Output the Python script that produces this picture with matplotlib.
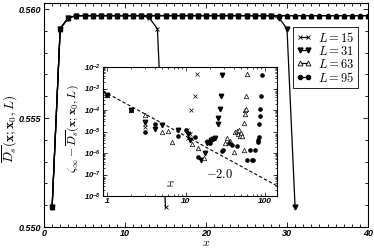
import numpy as np
import matplotlib
matplotlib.use('Agg')
import matplotlib.pyplot as plt
from matplotlib.ticker import MultipleLocator, FormatStrFormatter, FixedLocator, FixedFormatter, LogLocator, NullFormatter

plt.rcParams['font.family'] = 'Liberation Sans'
plt.rcParams['font.weight'] = 'bold'
plt.rcParams['font.style'] = 'italic'
plt.rcParams['mathtext.fontset'] = 'custom'
plt.rcParams['mathtext.rm'] = 'Liberation Sans:bold:italic'
plt.rcParams['mathtext.it'] = 'Liberation Sans:bold:italic'
plt.rcParams['mathtext.bf'] = 'Liberation Sans:bold:italic'

# main panel: D_s profile vs x for each L (visible part, x <= 41)
x15 = list(range(1, 16))
d15 = [0.5509, 0.5591, 0.5596, 0.5597, 0.5597, 0.5597, 0.5597, 0.5597,
       0.5597, 0.5597, 0.5597, 0.5597, 0.5596, 0.5591, 0.5509]
x31 = list(range(1, 32))
d31 = [0.5509, 0.5591, 0.5596, 0.5597, 0.5597, 0.5597, 0.5597, 0.5597,
       0.5597, 0.5597, 0.5597, 0.5597, 0.5597, 0.5597, 0.5597, 0.5597,
       0.5597, 0.5597, 0.5597, 0.5597, 0.5597, 0.5597, 0.5597, 0.5597,
       0.5597, 0.5597, 0.5597, 0.5597, 0.5596, 0.5591, 0.5509]
x63 = list(range(1, 42))
d63 = [0.5509, 0.5591, 0.5596] + [0.5597] * 38
x95 = list(range(1, 42))
d95 = [0.5509, 0.5591, 0.5596] + [0.5597] * 38

# inset: zeta_inf - D_s
ix15 = [1, 2, 3, 3, 10.2, 10.7, 11.2, 11.6, 13.0, 13.7]
iy15 = [5e-4, 1e-4, 2.2e-5, 1.6e-5, 1.15e-5, 4.8e-6, 7.5e-6, 1.0e-4, 4.5e-4, 4.9e-3]
ix31 = [1, 2, 3, 4, 5, 8, 10.5, 11.2, 15.5, 17.4, 18.5, 19.2, 20.5, 22, 23.3, 25.1, 25.6, 27.0, 27.8, 28.3]
iy31 = [5e-4, 1e-4, 2.7e-5, 1.3e-5, 2.1e-5, 1.2e-5, 8e-6, 4e-6, 4.7e-7, 1.0e-6,
        3.0e-6, 3.4e-6, 4.0e-6, 4.5e-6, 4.8e-6, 2.3e-5, 4.3e-5, 1.15e-4, 4.4e-4, 4.4e-3]
ix63 = [1, 2, 3, 5, 6, 6.6, 11.8, 14.3, 17, 31, 32.7, 36, 40.8, 42, 44, 45, 47, 48, 50,
        51, 54.6, 54.6, 55.6, 56.2, 57.0, 57.6, 58.8]
iy63 = [5e-4, 1e-4, 5.7e-5, 1.0e-5, 1.1e-5, 3.4e-6, 2.5e-6, 1.7e-6, 5.6e-7, 2.8e-6, 4.8e-6,
        3.5e-6, 1.15e-6, 9e-6, 1.1e-5, 7.5e-6, 1.2e-5, 6.5e-6, 8.5e-6,
        6e-6, 1.4e-6, 2.4e-5, 6.8e-5, 1.0e-4, 1.15e-4, 4.4e-4, 4.9e-3]
ix95 = [1, 2, 3, 4, 8, 10, 13, 14.3, 20, 28.7, 29.6, 35, 37.9, 44.5, 58.8, 64.4, 68, 71,
        75, 81.2, 82, 84, 85, 86.5, 87, 89, 90.6]
iy95 = [5e-4, 1e-4, 1.0e-5, 2.3e-5, 6e-6, 1.2e-5, 5.8e-6, 6.8e-7, 3e-6, 1.3e-6, 1.4e-6,
        3e-6, 2.4e-6, 2.1e-6, 4.7e-7, 1.4e-6, 4.7e-7, 4.7e-7, 1.4e-6, 3.4e-6, 4e-6,
        5.8e-6, 2.3e-5, 5.2e-5, 1.15e-4, 4.4e-4, 4.4e-3]
fit_x = [0.89, 142]
fit_amp = 6e-4
fit_slope = -2.0

fig = plt.figure(figsize=(3.74, 2.48), dpi=100)
ax = fig.add_axes([44/374, 1-227/248, 324/374, 224/248])

ax.plot(x15, d15, color='k', lw=0.9, marker='x', ms=3, mew=0.6, label=r'$L=15$')
ax.plot(x31, d31, color='k', lw=0.9, marker='v', ms=3.5, mfc='k', label=r'$L=31$')
ax.plot(x63, d63, color='k', lw=0.9, marker='^', ms=3.5, mfc='white', mew=0.6, label=r'$L=63$')
ax.plot(x95, d95, color='k', lw=0.9, marker='o', ms=3, mfc='k', label=r'$L=95$')

ax.set_xlim(0, 40)
ax.set_ylim(0.550, 0.56028)
ax.xaxis.set_major_locator(MultipleLocator(10))
ax.xaxis.set_minor_locator(MultipleLocator(1))
ax.yaxis.set_major_locator(MultipleLocator(0.005))
ax.yaxis.set_minor_locator(MultipleLocator(0.001))
ax.yaxis.set_major_formatter(FormatStrFormatter('%.3f'))
ax.tick_params(which='both', direction='in', top=True, right=True, labelsize=6.5, width=0.6)
ax.tick_params(which='major', length=3.5, pad=2)
ax.tick_params(which='minor', length=2)
ax.tick_params(axis='x', pad=1.5)
for s in ax.spines.values():
    s.set_linewidth(0.8)

leg = ax.legend(loc='upper right', bbox_to_anchor=(0.969, 0.893), borderaxespad=0,
                prop={'size': 9, 'math_fontfamily': 'cm'}, numpoints=2,
                handlelength=1.2, handletextpad=0.5, labelspacing=0.0,
                borderpad=0.3, fancybox=False, framealpha=1)
leg.get_frame().set_edgecolor('k')
leg.get_frame().set_linewidth(0.6)

fig.text(206/374, 1-246.5/248, r'$x$', fontsize=8.5, math_fontfamily='cm', ha='center', va='baseline')
fig.text(10/374, 1-129/248, r'$\overline{D_s}(\mathbf{x};\mathbf{x}_0,L)$', fontsize=9.5,
         math_fontfamily='cm', rotation=90, ha='center', va='center')

# inset
ai = fig.add_axes([103/374, 1-196/248, 174/374, 129/248])
ai.plot(ix15, iy15, ls='none', color='k', marker='x', ms=2.5, mew=0.5)
ai.plot(ix31, iy31, ls='none', color='k', marker='v', ms=3.2, mfc='k')
ai.plot(ix63, iy63, ls='none', color='k', marker='^', ms=3.2, mfc='white', mew=0.5)
ai.plot(ix95, iy95, ls='none', color='k', marker='o', ms=2.3, mfc='k')
fit_y = [fit_amp * v ** fit_slope for v in fit_x]
ai.plot(fit_x, fit_y, color='k', ls='--', lw=0.8, dashes=(3, 2))

ai.set_xscale('log')
ai.set_yscale('log')
ai.set_xlim(0.89, 142)
ai.set_ylim(1e-8, 1e-2)
ai.xaxis.set_major_locator(FixedLocator([1, 10, 100]))
ai.xaxis.set_major_formatter(FixedFormatter(['1', '10', '100']))
ai.xaxis.set_minor_locator(LogLocator(base=10, subs=np.arange(2, 10), numticks=20))
ai.xaxis.set_minor_formatter(NullFormatter())
ai.yaxis.set_major_locator(FixedLocator([1e-8, 1e-7, 1e-6, 1e-5, 1e-4, 1e-3, 1e-2]))
ai.yaxis.set_minor_locator(LogLocator(base=10, subs=np.arange(2, 10), numticks=20))
ai.yaxis.set_minor_formatter(NullFormatter())
ai.tick_params(which='both', direction='in', top=True, right=True, labelsize=5.5, width=0.5)
ai.tick_params(which='major', length=3, pad=1.5)
ai.tick_params(which='minor', length=1.6)
ai.tick_params(axis='x', labelsize=6)
for s in ai.spines.values():
    s.set_linewidth(0.8)

ai.text(0.385, 0.093, r'$x$', transform=ai.transAxes, fontsize=9, math_fontfamily='cm',
        ha='center', va='center')
ai.text(0.672, 0.163, r'$-2.0$', transform=ai.transAxes, fontsize=9, math_fontfamily='cm',
        ha='center', va='center')
ai.text(-0.17, 0.523, r'$\zeta_\infty-\overline{D_s}(\mathbf{x};\mathbf{x}_0,L)$',
        transform=ai.transAxes, fontsize=8.5, math_fontfamily='cm', rotation=90,
        ha='center', va='center')

fig.savefig('out.png', dpi=100)
